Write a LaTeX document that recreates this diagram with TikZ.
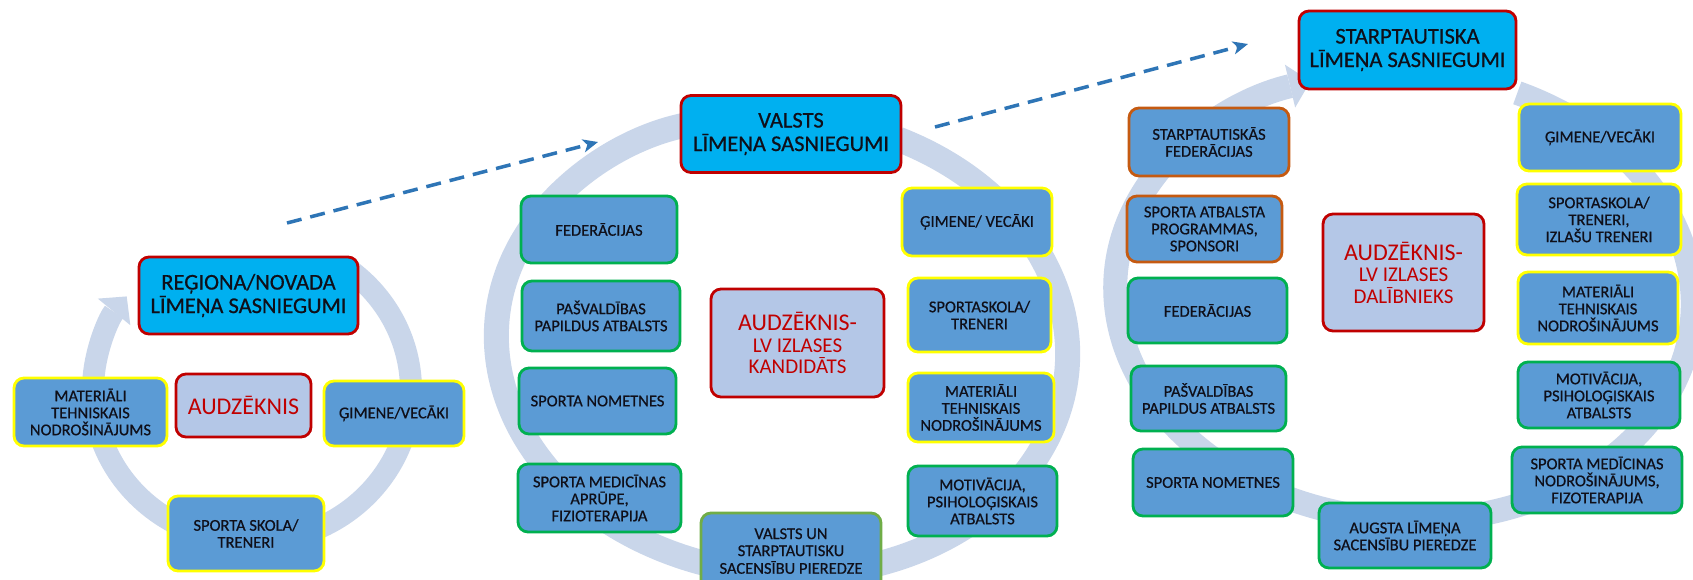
\documentclass[tikz,border=0pt]{standalone}
\usepackage{fontspec}
\setmainfont{Carlito}
\newfontfamily\heavyfont{Carlito}[FakeBold=0.6]
\usetikzlibrary{arrows.meta}
\definecolor{cyanbox}{RGB}{0,176,240}
\definecolor{bluebox}{RGB}{91,155,213}
\definecolor{centerbox}{RGB}{180,199,231}
\definecolor{redb}{RGB}{192,0,0}
\definecolor{yelb}{RGB}{255,255,0}
\definecolor{greenb}{RGB}{0,176,80}
\definecolor{oliveb}{RGB}{112,173,71}
\definecolor{orangeb}{RGB}{197,90,17}
\definecolor{ringc}{RGB}{201,214,234}
\definecolor{dashc}{RGB}{46,117,182}
\definecolor{txt}{RGB}{15,15,25}
\definecolor{redtxt}{RGB}{192,0,0}
\newcommand{\fsm}{\heavyfont\fontsize{16.5}{17}\selectfont}
\newcommand{\fbig}{\heavyfont\fontsize{22.5}{23.5}\selectfont}
\newcommand{\fred}{\fontsize{21}{21.5}\selectfont}
\newcommand{\fredbig}{\fontsize{24}{24.5}\selectfont}
\begin{document}
\begin{tikzpicture}[x=1pt,y=-1pt,
  box/.style={rounded corners=10pt, line width=2.8pt, fill=bluebox, text=txt, align=center, font=\fsm, inner sep=1pt},
  topbox/.style={box, fill=cyanbox, draw=redb, font=\fbig},
  redbox/.style={box, fill=centerbox, draw=redb, text=redtxt, font=\fred},
  ybox/.style={box, draw=yelb},
  gbox/.style={box, draw=greenb},
  obox/.style={box, draw=orangeb},
  ring/.style={draw=ringc},
  dasharrow/.style={draw=dashc, line width=3.5pt, dash pattern=on 15pt off 9pt, -{Stealth[length=15pt,width=13pt,inset=4pt]}}
]
\useasboundingbox (0,0) rectangle (1693,579);
\fill[white] (0,0) rectangle (1693,579);

% rings
\draw[ring, line width=22pt, -{Triangle[width=42pt,length=20pt,line width=0pt]}]
  (252,390) ++(53:159pt and 152pt) arc[start angle=53, end angle=-218, x radius=159pt, y radius=152pt];
\draw[ring, line width=25pt, -{Triangle[width=46pt,length=22pt,line width=0pt]}, rotate around={-5:(782,345)}]
  (782,345) ++(70:286pt and 229pt) arc[start angle=70, end angle=-252, x radius=286pt, y radius=229pt];
\draw[ring, line width=24pt, -{Triangle[width=44pt,length=21pt,line width=0pt]}, rotate around={-4:(1404,296)}]
  (1404,296) ++(70:289pt and 224pt) arc[start angle=70, end angle=-248, x radius=289pt, y radius=224pt];

% dashed arrows
\coordinate (d1s) at (287,223);
\coordinate (d1e) at (598,142);
\coordinate (d2s) at (935,127);
\coordinate (d2e) at (1248,44);
\draw[dasharrow] (d1s) -- (d1e);
\draw[dasharrow] (d2s) -- (d2e);

% left group
\node[topbox, minimum width=219pt, minimum height=77pt] (Ltop) at (248.5,295.5) {REĢIONA/NOVADA\\LĪMEŅA SASNIEGUMI};
\node[ybox, minimum width=153pt, minimum height=68pt] (Lmat) at (90.5,412) {MATERIĀLI\\TEHNISKAIS\\NODROŠINĀJUMS};
\node[redbox, minimum width=135pt, minimum height=63pt, font=\fredbig] (Laud) at (243.5,405.5) {AUDZĒKNIS};
\node[ybox, minimum width=140pt, minimum height=65pt] (Lgim) at (394,413.5) {ĢIMENE/VECĀKI};
\node[ybox, minimum width=156pt, minimum height=75pt] (Lsk) at (246,533.5) {SPORTA SKOLA/\\TRENERI};

% middle group
\node[topbox, minimum width=220pt, minimum height=77pt] (Mtop) at (791,134) {VALSTS\\LĪMEŅA SASNIEGUMI};
\node[gbox, minimum width=156pt, minimum height=67pt] (Mfed) at (599,229.5) {FEDERĀCIJAS};
\node[gbox, minimum width=158pt, minimum height=70pt] (Mpas) at (601,316) {PAŠVALDĪBAS\\PAPILDUS ATBALSTS};
\node[gbox, minimum width=157pt, minimum height=66pt] (Mnom) at (597.5,401) {SPORTA NOMETNES};
\node[gbox, minimum width=163pt, minimum height=68pt] (Mmed) at (599.5,498) {SPORTA MEDICĪNAS\\APRŪPE,\\FIZIOTERAPIJA};
\node[box, draw=oliveb, minimum width=180pt, minimum height=80pt] (Mvun) at (791,553) {\raisebox{8pt}{\begin{tabular}{@{}c@{}}VALSTS UN\\STARPTAUTISKU\\SACENSĪBU PIEREDZE\end{tabular}}};
\node[redbox, minimum width=173pt, minimum height=108pt] (Maud) at (797.5,343) {{\fredbig AUDZĒKNIS-}\\LV IZLASES\\KANDIDĀTS};
\node[ybox, minimum width=150pt, minimum height=68pt] (Mgim) at (977,222) {ĢIMENE/ VECĀKI};
\node[ybox, minimum width=143pt, minimum height=74pt] (Msk) at (979.5,315) {SPORTASKOLA/\\TRENERI};
\node[ybox, minimum width=146pt, minimum height=69pt] (Mmat) at (981,407.5) {MATERIĀLI\\TEHNISKAIS\\NODROŠINĀJUMS};
\node[gbox, minimum width=149pt, minimum height=70pt] (Mmot) at (982.5,501) {MOTIVĀCIJA,\\PSIHOLOĢISKAIS\\ATBALSTS};

% right group
\node[topbox, minimum width=217pt, minimum height=78pt] (Rtop) at (1407.5,50) {STARPTAUTISKA\\LĪMEŅA SASNIEGUMI};
\node[obox, minimum width=160pt, minimum height=68pt] (Rsf) at (1209,142) {STARPTAUTISKĀS\\FEDERĀCIJAS};
\node[obox, minimum width=155pt, minimum height=66pt] (Rspa) at (1204.5,229) {SPORTA ATBALSTA\\PROGRAMMAS,\\SPONSORI};
\node[gbox, minimum width=159pt, minimum height=65pt] (Rfed) at (1207.5,310.5) {FEDERĀCIJAS};
\node[gbox, minimum width=155pt, minimum height=65pt] (Rpas) at (1208.5,398.5) {PAŠVALDĪBAS\\PAPILDUS ATBALSTS};
\node[gbox, minimum width=160pt, minimum height=67pt] (Rnom) at (1213,482.5) {SPORTA NOMETNES};
\node[gbox, minimum width=172pt, minimum height=65pt] (Raug) at (1405,535.5) {AUGSTA LĪMEŅA\\SACENSĪBU PIEREDZE};
\node[redbox, minimum width=161pt, minimum height=117pt] (Raud) at (1403.5,272.5) {{\fredbig AUDZĒKNIS-}\\LV IZLASES\\DALĪBNIEKS};
\node[ybox, minimum width=162pt, minimum height=67pt] (Rgim) at (1600,137.5) {ĢIMENE/VECĀKI};
\node[ybox, minimum width=164pt, minimum height=71pt] (Rsk) at (1599,219.5) {SPORTASKOLA/\\TRENERI,\\IZLAŠU TRENERI};
\node[ybox, minimum width=160pt, minimum height=72pt] (Rmat) at (1598,308) {MATERIĀLI\\TEHNISKAIS\\NODROŠINĀJUMS};
\node[gbox, minimum width=162pt, minimum height=66pt] (Rmot) at (1599,395) {MOTIVĀCIJA,\\PSIHOLOĢISKAIS\\ATBALSTS};
\node[gbox, minimum width=170pt, minimum height=66pt] (Rmed) at (1597,480) {SPORTA MEDĪCINAS\\NODROŠINĀJUMS,\\FIZOTERAPIJA};
\end{tikzpicture}
\end{document}
